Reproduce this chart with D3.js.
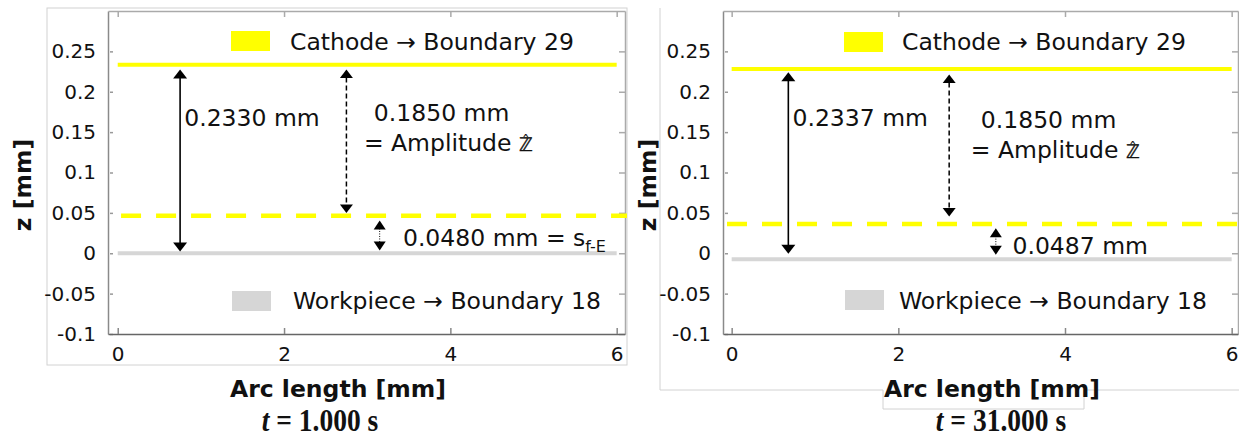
<!DOCTYPE html>
<html>
<head>
<meta charset="utf-8">
<script src="https://cdn.jsdelivr.net/npm/d3@7"></script>
<style>
  html, body { margin: 0; padding: 0; background: #fff; }
  svg { display: block; }
  text { font-family: "DejaVu Sans", Verdana, sans-serif; fill: #111; }
</style>
</head>
<body>
<svg id="chart" width="1239" height="439"></svg>
<script>
// ---------------- DATA ----------------
const xTicks = [0, 2, 4, 6];
const yTicks = [-0.1, -0.05, 0, 0.05, 0.1, 0.15, 0.2, 0.25];
const yTickLabels = ["-0.1", "-0.05", "0", "0.05", "0.1", "0.15", "0.2", "0.25"];
const timeLabels = ["1.000", "31.000"];
const boundaryX = [0, 6];                 // arc length extent of boundaries [mm]
const cathodeZ = [0.2334, 0.2283];        // Cathode -> Boundary 29
const electrolyteZ = [0.0464, 0.0361];    // dashed line
const workpieceZ = [0.0001, -0.0073];     // Workpiece -> Boundary 18
const gapLabels = ["0.2330 mm", "0.2337 mm"];
const amplitudeLabel = "0.1850 mm";
const sfeLabels = ["0.0480 mm", "0.0487 mm"];
const solidArrowX = [0.75, 0.68];
const solidArrowZ = [[0.2275, 0.0021], [0.2242, -0.0007]];
const dashedArrowX = [2.75, 2.61];
const dashedArrowZ = [[0.2275, 0.0497], [0.2213, 0.0455]];
const dottedArrowX = [3.15, 3.17];
const dottedArrowZ = [[0.0406, 0.0033], [0.0311, -0.002]];
const dashedStartX = [0.04, -0.056];

// ---------------- LAYOUT ----------------
const layout = [
  { x0: 108, x1: 625, y0: 11, y1: 334, xDom: [-0.117, 6.1],
    yTitleX: 23, xTitleX: 338, timeX: 320,
    legC: { rx: 231, ry: 31, tx: 290, ty: 50 },
    legW: { rx: 232, ry: 291, tx: 293, ty: 309 },
    gapPos: [0.80, 0.1572], ampPos: [3.08, 0.1634], amp2Pos: [2.96, 0.1262], sfePos: [3.43, 0.0092],
    showSub: true },
  { x0: 723, x1: 1238, y0: 11, y1: 334, xDom: [-0.104, 6.076],
    yTitleX: 648, xTitleX: 992, timeX: 1001,
    legC: { rx: 844, ry: 32, tx: 902, ty: 50 },
    legW: { rx: 845, ry: 290, tx: 899, ty: 309 },
    gapPos: [0.73, 0.1572], ampPos: [2.99, 0.1552], amp2Pos: [2.87, 0.118], sfePos: [3.37, -0.0007],
    showSub: false }
];
const yDom = [-0.1, 0.3];
const YELLOW = "#ffff00", GREY = "#d6d6d6";
const FS = 23.5;

const svg = d3.select("#chart");

// outer frames
svg.append("rect").attr("x", 47).attr("y", 8).attr("width", 580).attr("height", 357)
  .attr("fill", "none").attr("stroke", "#d2d2d2").attr("stroke-width", 1);
svg.append("path")
  .attr("d", "M660,8 L660,390 L883,390 L883,409 L1084,409 L1084,390 L1239,390")
  .attr("fill", "none").attr("stroke", "#d2d2d2").attr("stroke-width", 1);

function arrowHead(g, x, y, dir, w, l) {
  g.append("path")
    .attr("d", `M${x},${y} L${x - w / 2},${y - dir * l} L${x + w / 2},${y - dir * l} Z`)
    .attr("fill", "#000");
}

layout.forEach((L, i) => {
  const g = svg.append("g");
  const x = d3.scaleLinear().domain(L.xDom).range([L.x0, L.x1]);
  const y = d3.scaleLinear().domain(yDom).range([L.y1, L.y0]);

  const clipId = "clip" + i;
  svg.append("clipPath").attr("id", clipId).append("rect")
    .attr("x", L.x0).attr("y", L.y0).attr("width", L.x1 - L.x0 + 2).attr("height", L.y1 - L.y0);

  const fmt = d => yTickLabels[yTicks.indexOf(d)];
  g.append("g").attr("transform", `translate(${L.x0},0)`)
    .call(d3.axisLeft(y).tickValues(yTicks).tickFormat(fmt).tickSizeInner(-5).tickSizeOuter(0).tickPadding(12))
    .call(a => a.select(".domain").attr("stroke", "#8a8a8a").attr("stroke-width", 1.5))
    .call(a => a.selectAll(".tick line").attr("stroke", "#999").attr("stroke-width", 1.5).attr("x1", 2))
    .call(a => a.selectAll(".tick text").attr("font-size", 20).attr("font-family", "DejaVu Sans").attr("fill", "#111"));
  g.append("g").attr("transform", `translate(${L.x1},0)`)
    .call(d3.axisRight(y).tickValues(yTicks).tickFormat("").tickSizeInner(-6).tickSizeOuter(0))
    .call(a => a.select(".domain").attr("stroke", "#aaa").attr("stroke-width", 1.5))
    .call(a => a.selectAll(".tick line").attr("stroke", "#aaa").attr("stroke-width", 1.5));
  g.append("g").attr("transform", `translate(0,${L.y0})`)
    .call(d3.axisTop(x).tickValues(xTicks).tickFormat("").tickSizeInner(-6).tickSizeOuter(0))
    .call(a => a.select(".domain").attr("stroke", "#aaa").attr("stroke-width", 1.5))
    .call(a => a.selectAll(".tick line").attr("stroke", "#aaa").attr("stroke-width", 1.5));
  g.append("g").attr("transform", `translate(0,${L.y1})`)
    .call(d3.axisBottom(x).tickValues(xTicks).tickFormat(d3.format("d")).tickSizeInner(-6).tickSizeOuter(0).tickPadding(13))
    .call(a => a.select(".domain").attr("stroke", "#666").attr("stroke-width", 1.5))
    .call(a => a.selectAll(".tick line").attr("stroke", "#888").attr("stroke-width", 1.5))
    .call(a => a.selectAll(".tick text").attr("font-size", 20).attr("font-family", "DejaVu Sans").attr("fill", "#111"));

  const line = d3.line().x(d => x(d[0])).y(d => y(d[1]));
  const plot = g.append("g").attr("clip-path", `url(#${clipId})`);

  plot.append("path").datum(boundaryX.map(v => [v, cathodeZ[i]]))
    .attr("d", line).attr("stroke", YELLOW).attr("stroke-width", 4).attr("fill", "none");
  plot.append("path").datum([[dashedStartX[i], electrolyteZ[i]], [L.xDom[1] + 0.05, electrolyteZ[i]]])
    .attr("d", line).attr("stroke", YELLOW).attr("stroke-width", 4.5).attr("fill", "none")
    .attr("stroke-dasharray", "20,15");
  plot.append("path").datum(boundaryX.map(v => [v, workpieceZ[i]]))
    .attr("d", line).attr("stroke", GREY).attr("stroke-width", 4).attr("fill", "none");

  // legends
  g.append("rect").attr("x", L.legC.rx).attr("y", L.legC.ry).attr("width", 39).attr("height", 20).attr("fill", YELLOW);
  g.append("text").attr("x", L.legC.tx).attr("y", L.legC.ty).attr("font-size", FS).text("Cathode \u2192 Boundary 29");
  g.append("rect").attr("x", L.legW.rx).attr("y", L.legW.ry).attr("width", 39).attr("height", 20).attr("fill", "#d6d6d6");
  g.append("text").attr("x", L.legW.tx).attr("y", L.legW.ty).attr("font-size", FS).text("Workpiece \u2192 Boundary 18");

  // solid arrow
  const sx = x(solidArrowX[i]), sy1 = y(solidArrowZ[i][0]), sy2 = y(solidArrowZ[i][1]);
  g.append("line").attr("x1", sx).attr("x2", sx).attr("y1", sy1 + 4).attr("y2", sy2 - 4)
    .attr("stroke", "#000").attr("stroke-width", 1.6);
  arrowHead(g, sx, sy1, -1, 14, 9);
  arrowHead(g, sx, sy2, 1, 14, 9);

  // dashed arrow
  const dx = x(dashedArrowX[i]), dy1 = y(dashedArrowZ[i][0]), dy2 = y(dashedArrowZ[i][1]);
  g.append("line").attr("x1", dx).attr("x2", dx).attr("y1", dy1 + 8).attr("y2", dy2 - 8)
    .attr("stroke", "#000").attr("stroke-width", 1.5).attr("stroke-dasharray", "5,3");
  arrowHead(g, dx, dy1, -1, 13, 8.5);
  arrowHead(g, dx, dy2, 1, 13, 8.5);

  // dotted arrow
  const ox = x(dottedArrowX[i]), oy1 = y(dottedArrowZ[i][0]), oy2 = y(dottedArrowZ[i][1]);
  g.append("line").attr("x1", ox).attr("x2", ox).attr("y1", oy1 + 8).attr("y2", oy2 - 8)
    .attr("stroke", "#000").attr("stroke-width", 1).attr("stroke-dasharray", "1,1.5");
  arrowHead(g, ox, oy1, -1, 12, 9);
  arrowHead(g, ox, oy2, 1, 12, 9);

  // annotation texts
  g.append("text").attr("x", x(L.gapPos[0])).attr("y", y(L.gapPos[1])).attr("font-size", FS).text(gapLabels[i]);
  g.append("text").attr("x", x(L.ampPos[0])).attr("y", y(L.ampPos[1])).attr("font-size", FS).text(amplitudeLabel);
  const at = g.append("text").attr("x", x(L.amp2Pos[0])).attr("y", y(L.amp2Pos[1])).attr("font-size", FS);
  at.append("tspan").text("= Amplitude ");
  at.append("tspan").attr("font-size", 18.5).attr("stroke", "#111").attr("stroke-width", 0.35).text("\u2124");
  const hat = at.append("tspan").attr("font-size", 16).attr("dy", -4).text("\u02C6");
  const zW = at.node().getExtentOfChar(12).width;
  const hW = at.node().getExtentOfChar(13).width;
  hat.attr("dx", -(zW / 2 + hW / 2));

  const st = g.append("text").attr("x", x(L.sfePos[0])).attr("y", y(L.sfePos[1])).attr("font-size", FS);
  st.append("tspan").text(sfeLabels[i]);
  if (L.showSub) {
    st.append("tspan").text(" = s");
    st.append("tspan").attr("font-size", 16).attr("dy", 6).text("f-E");
  }

  // axis titles
  g.append("text").attr("transform", `translate(${L.yTitleX},185) rotate(-90)`)
    .attr("text-anchor", "middle").attr("dy", "0.35em")
    .attr("font-size", FS).attr("font-weight", "bold").text("z [mm]");
  g.append("text").attr("x", L.xTitleX).attr("y", 397).attr("text-anchor", "middle")
    .attr("font-size", FS).attr("font-weight", "bold").text("Arc length [mm]");

  // time label (tall, slightly condensed serif)
  const tt = g.append("text").attr("transform", `translate(${L.timeX},431) scale(0.86,1)`)
    .attr("text-anchor", "middle")
    .attr("font-size", 32).attr("font-weight", "bold")
    .style("font-family", "'Liberation Serif', 'Times New Roman', serif");
  tt.append("tspan").attr("font-style", "italic").text("t");
  tt.append("tspan").text(" = " + timeLabels[i] + " s");
});
</script>
</body>
</html>
